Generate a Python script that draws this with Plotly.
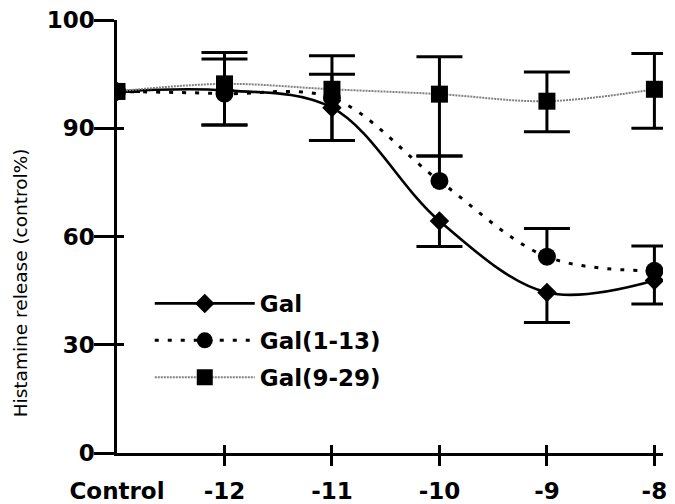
import plotly.graph_objects as go

# ---------------- data ----------------
categories = ["Control", "-12", "-11", "-10", "-9", "-8"]
log_conc = [-13, -12, -11, -10, -9, -8]  # Control drawn one step left of -12

gal = [93.4, 93.5, 91.9, 64.3, 44.5, 47.8]
gal_err_plus = [None, None, None, None, None, None]
gal_err_minus = [None, 3.2, 5.3, 7.1, 8.3, 6.5]

gal113 = [93.4, 93.2, 92.8, 75.4, 54.4, 50.5]
gal113_err_plus = [None, 3.2, 2.2, 6.9, 7.8, 6.9]
gal113_err_minus = [None, None, None, None, None, None]

gal929 = [93.4, 94.1, 93.6, 93.15, 92.5, 93.6]
gal929_err_plus = [0, 2.9, 3.1, 3.45, 2.7, 3.3]
gal929_err_minus = [0, 3.8, 7.0, 10.85, 3.5, 3.6]

y_tick_values = [0, 30, 60, 90, 100]

# broken y scale: segment 90-100 is stretched 3x
def axis_pos(v):
    return v if v <= 90 else 90 + (v - 90) * 3


FONT = "DejaVu Sans"
fig = go.Figure()

series = [
    ("Gal", gal, gal_err_plus, gal_err_minus,
     dict(symbol="diamond", size=15, color="black"),
     dict(color="black", width=2.6, shape="spline", smoothing=1.0)),
    ("Gal(1-13)", gal113, gal113_err_plus, gal113_err_minus,
     dict(symbol="circle", size=18, color="black"),
     dict(color="black", width=3, dash="4px,9px", shape="spline", smoothing=1.0)),
    ("Gal(9-29)", gal929, gal929_err_plus, gal929_err_minus,
     dict(symbol="square", size=17, color="black"),
     dict(color="#808080", width=2, dash="2px,1px", shape="spline", smoothing=1.0)),
]

# error bar stems and caps (drawn beneath the markers)
for name, vals, eplus, eminus, _, _ in series:
    ys = [axis_pos(v) for v in vals]
    arr_p = [axis_pos(v + e) - axis_pos(v) if e is not None else 0 for v, e in zip(vals, eplus)]
    arr_m = [axis_pos(v) - axis_pos(v - e) if e is not None else 0 for v, e in zip(vals, eminus)]
    fig.add_trace(go.Scatter(
        x=log_conc, y=ys, mode="markers", marker=dict(size=1, opacity=0),
        error_y=dict(type="data", symmetric=False, array=arr_p, arrayminus=arr_m,
                     width=0, thickness=3, color="black"),
        showlegend=False, hoverinfo="skip"))
    cap_x, cap_y = [], []
    for xc, v, ep, em in zip(log_conc, vals, eplus, eminus):
        if ep is not None:
            cap_x.append(xc); cap_y.append(axis_pos(v + ep))
        if em is not None:
            cap_x.append(xc); cap_y.append(axis_pos(v - em))
    fig.add_trace(go.Scatter(
        x=cap_x, y=cap_y, mode="markers", marker=dict(size=1, opacity=0),
        error_y=dict(type="data", array=[0] * len(cap_y), width=23, thickness=3, color="black"),
        showlegend=False, hoverinfo="skip"))

for i, (name, vals, _, _, mk, ln) in enumerate(series):
    fig.add_trace(go.Scatter(
        x=log_conc, y=[axis_pos(v) for v in vals], name=name, legendgroup=f"g{i}",
        mode="lines+markers", marker=mk, line=ln))

# invisible traces to carry the overlay tick axes
fig.add_trace(go.Scatter(x=[None], y=[None], xaxis="x2", yaxis="y", showlegend=False))
fig.add_trace(go.Scatter(x=[None], y=[None], xaxis="x3", yaxis="y", showlegend=False))
fig.add_trace(go.Scatter(x=[None], y=[None], xaxis="x", yaxis="y2", showlegend=False))

xr = [-13, -7.92]
yr = [0, 120]
tv = [axis_pos(v) for v in y_tick_values]

fig.update_layout(
    width=675, height=504,
    margin=dict(l=117, r=12, t=20, b=51, autoexpand=False),
    paper_bgcolor="white", plot_bgcolor="white",
    font=dict(family=FONT, color="black"),
    xaxis=dict(range=xr, tickvals=log_conc, ticktext=categories, automargin=False,
               ticks="outside", ticklen=12, tickcolor="rgba(0,0,0,0)",
               ticklabelstandoff=4,
               showline=True, linecolor="black", linewidth=2.5,
               showgrid=False, zeroline=False,
               tickfont=dict(family=FONT, size=23, weight="bold", color="black")),
    xaxis2=dict(range=xr, overlaying="x", anchor="y", side="bottom", automargin=False,
                tickvals=log_conc[1:], ticks="outside", ticklen=12, tickwidth=2.5,
                tickcolor="black", showticklabels=False, showline=False,
                showgrid=False, zeroline=False),
    xaxis3=dict(range=xr, overlaying="x", anchor="y", side="bottom", automargin=False,
                tickvals=log_conc[1:], ticks="inside", ticklen=8, tickwidth=2.5,
                tickcolor="black", showticklabels=False, showline=False,
                showgrid=False, zeroline=False),
    yaxis=dict(range=yr, tickvals=tv, ticktext=[str(v) for v in y_tick_values],
               automargin=False, ticklabelstandoff=-5,
               ticks="outside", ticklen=20, tickwidth=2.5, tickcolor="black",
               showline=True, linecolor="black", linewidth=2.5,
               showgrid=False, zeroline=False,
               tickfont=dict(family=FONT, size=23, weight="bold", color="black")),
    yaxis2=dict(range=yr, overlaying="y", anchor="x", side="left", automargin=False,
                tickvals=tv, ticks="inside", ticklen=7, tickwidth=2.5,
                tickcolor="black", showticklabels=False, showline=False,
                showgrid=False, zeroline=False),
    legend=dict(x=0.06, y=0.395, xanchor="left", yanchor="top",
                bgcolor="rgba(0,0,0,0)", itemwidth=100,
                traceorder="grouped", tracegroupgap=4,
                font=dict(family=FONT, size=23, weight="bold", color="black")),
    annotations=[dict(text="Histamine release (control%)", textangle=-90,
                      xref="paper", yref="paper", x=-0.1777, y=0.394,
                      xanchor="center", yanchor="middle", showarrow=False,
                      font=dict(family=FONT, size=18.5, color="black"))],
)

fig.write_html("out.html", config={"displayModeBar": False},
               post_script="document.body.style.margin='0px';document.body.style.overflow='hidden';")
